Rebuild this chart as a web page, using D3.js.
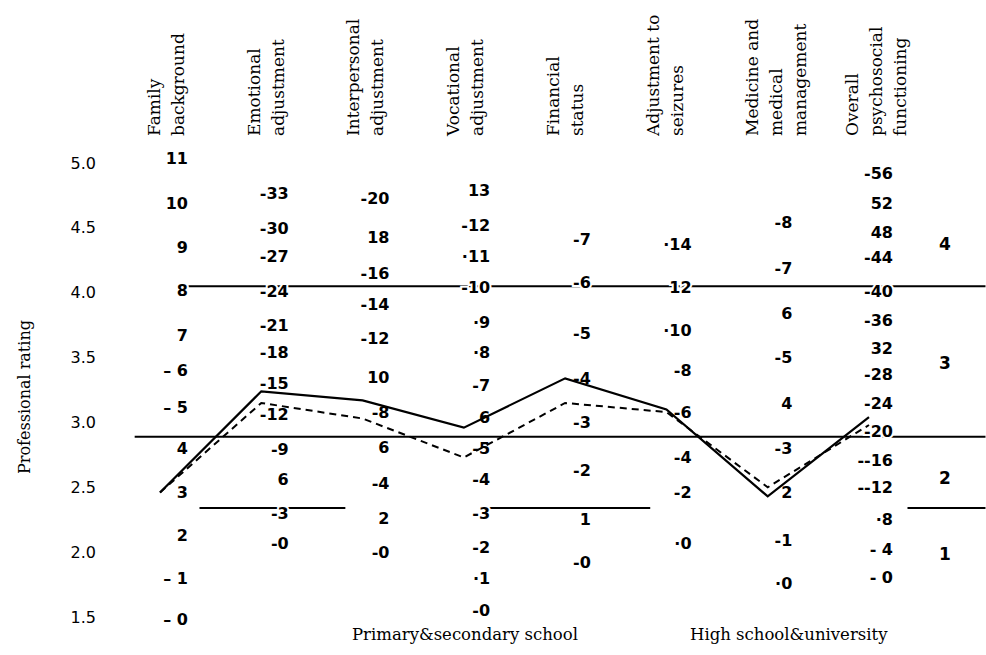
<!DOCTYPE html>
<html>
<head>
<meta charset="utf-8">
<script src="https://cdn.jsdelivr.net/npm/d3@7"></script>
<style>
body { margin: 0; background: #fff; }
</style>
</head>
<body>
<svg id="chart" width="986" height="655"></svg>
<script>
"use strict"

const headers = [
    ["Family", "background"],
    ["Emotional", "adjustment"],
    ["Interpersonal", "adjustment"],
    ["Vocational", "adjustment"],
    ["Financial", "status"],
    ["Adjustment to", "seizures"],
    ["Medicine and", "medical", "management"],
    ["Overall", "psychosocial", "functioning"]
]

const ratingTicks = [5.0, 4.5, 4.0, 3.5, 3.0, 2.5, 2.0, 1.5]

// profile values, in professional rating units
const solidProfile = [2.46, 3.24, 3.17, 2.96, 3.34, 3.10, 2.43, 3.04]
const dashedProfile = [2.46, 3.15, 3.03, 2.73, 3.15, 3.08, 2.50, 2.98]

// raw score labels of every column and the rating they sit at
const tickLabels = [
    ["11", "10", "9", "8", "7", "– 6", "– 5", "4", "3", "2", "– 1", "– 0"],
    ["-33", "-30", "-27", "-24", "-21", "-18", "-15", "-12", "-9", "6", "-3", "-0"],
    ["-20", "18", "-16", "-14", "-12", "10", "-8", "6", "-4", "2", "-0"],
    ["13", "-12", "·11", "-10", "·9", "·8", "-7", "6", "-5", "-4", "-3", "-2", "·1", "-0"],
    ["-7", "-6", "-5", "-4", "-3", "-2", "1", "-0"],
    ["·14", "12", "·10", "-8", "-6", "-4", "-2", "·0"],
    ["-8", "-7", "6", "-5", "4", "-3", "2", "-1", "·0"],
    ["-56", "52", "48", "-44", "-40", "-36", "32", "-28", "-24", "-20", "--16", "--12", "·8", "- 4", "- 0"]
]
const tickRatings = [
    [5.04, 4.69, 4.35, 4.02, 3.67, 3.40, 3.12, 2.80, 2.46, 2.13, 1.80, 1.48],
    [4.77, 4.50, 4.28, 4.01, 3.75, 3.54, 3.30, 3.06, 2.79, 2.56, 2.30, 2.07],
    [4.73, 4.43, 4.15, 3.91, 3.65, 3.35, 3.08, 2.81, 2.53, 2.26, 2.00],
    [4.79, 4.52, 4.28, 4.04, 3.77, 3.54, 3.29, 3.04, 2.80, 2.56, 2.30, 2.04, 1.80, 1.55],
    [4.41, 4.08, 3.69, 3.34, 3.00, 2.63, 2.25, 1.92],
    [4.37, 4.04, 3.71, 3.40, 3.08, 2.73, 2.46, 2.07],
    [4.54, 4.19, 3.84, 3.50, 3.15, 2.80, 2.46, 2.09, 1.76],
    [4.92, 4.69, 4.47, 4.27, 4.01, 3.79, 3.57, 3.37, 3.15, 2.93, 2.71, 2.50, 2.25, 2.02, 1.81]
]

const cutoffRatings = [4.05, 2.89, 2.34]
const bandLabels = ["4", "3", "2", "1"]
const bandRatings = [4.38, 3.46, 2.57, 1.99]
const schoolLabels = ["Primary&secondary school", "High school&university"]

const svg = d3.select("#chart")
const serif = "'DejaVu Serif', serif"
const sans = "'DejaVu Sans', sans-serif"

const y = d3.scaleLinear().domain([1.5, 5.0]).range([617, 163])
const x = d3.scaleLinear().domain([0, 7]).range([160, 869])
const labelX = d3.scalePoint().domain(d3.range(8)).range([188, 893])
const headX = d3.scalePoint().domain(d3.range(8)).range([155, 853])

// column headers, rotated
headers.forEach((lines, i) => {
    lines.forEach((t, j) => {
        svg.append("text")
            .attr("transform", "translate(" + (headX(i) + 5 + j * 24) + ",136) rotate(-90)")
            .attr("font-family", serif)
            .attr("font-size", 17)
            .text(t)
    })
})

// left rating axis
const yAxis = d3.axisLeft(y).tickValues(ratingTicks).tickFormat(d3.format(".1f")).tickSize(0).tickPadding(0)
const ag = svg.append("g").attr("transform", "translate(96,0)").call(yAxis)
ag.select(".domain").remove()
ag.selectAll("text").attr("font-family", sans).attr("font-size", 16).attr("fill", "#000")

svg.append("text")
    .attr("transform", "translate(30,397) rotate(-90)")
    .attr("text-anchor", "middle")
    .attr("font-family", serif)
    .attr("font-size", 16)
    .text("Professional rating")

// cutoff lines, broken where the scan leaves gaps
const lineSpans = [
    [[0.28, 8.15]],
    [[-0.25, 8.15]],
    [[0.39, 1.83], [3.21, 4.84], [7.38, 8.15]]
]
cutoffRatings.forEach((r, k) => {
    lineSpans[k].forEach(s => {
        svg.append("line")
            .attr("x1", x(s[0])).attr("x2", x(s[1]))
            .attr("y1", y(r)).attr("y2", y(r))
            .attr("stroke", "#000")
            .attr("stroke-width", 2)
    })
})

// raw score labels of each column
tickLabels.forEach((labels, i) => {
    svg.append("g")
        .selectAll("text")
        .data(labels)
        .enter()
        .append("text")
        .attr("x", labelX(i))
        .attr("y", (d, j) => y(tickRatings[i][j]))
        .attr("dy", "0.36em")
        .attr("text-anchor", "end")
        .attr("font-family", sans)
        .attr("font-weight", "bold")
        .attr("font-size", 16)
        .attr("stroke", "#fff")
        .attr("stroke-width", 4)
        .attr("paint-order", "stroke")
        .text(d => d)
})

// band labels on the right
svg.append("g")
    .selectAll("text")
    .data(bandLabels)
    .enter()
    .append("text")
    .attr("x", 945)
    .attr("y", (d, i) => y(bandRatings[i]))
    .attr("dy", "0.36em")
    .attr("text-anchor", "middle")
    .attr("font-family", sans)
    .attr("font-weight", "bold")
    .attr("font-size", 17)
    .text(d => d)

// the two profiles
const line = d3.line().x((d, i) => x(i)).y(d => y(d))
svg.append("path")
    .attr("d", line(dashedProfile))
    .attr("fill", "none")
    .attr("stroke", "#000")
    .attr("stroke-width", 2)
    .attr("stroke-dasharray", "7,5")
svg.append("path")
    .attr("d", line(solidProfile))
    .attr("fill", "none")
    .attr("stroke", "#000")
    .attr("stroke-width", 2.2)

// school labels
svg.append("text").attr("x", 352).attr("y", 640)
    .attr("font-family", serif).attr("font-size", 16.5)
    .text(schoolLabels[0])
svg.append("text").attr("x", 690).attr("y", 640)
    .attr("font-family", serif).attr("font-size", 16.5)
    .text(schoolLabels[1])
</script>
</body>
</html>
